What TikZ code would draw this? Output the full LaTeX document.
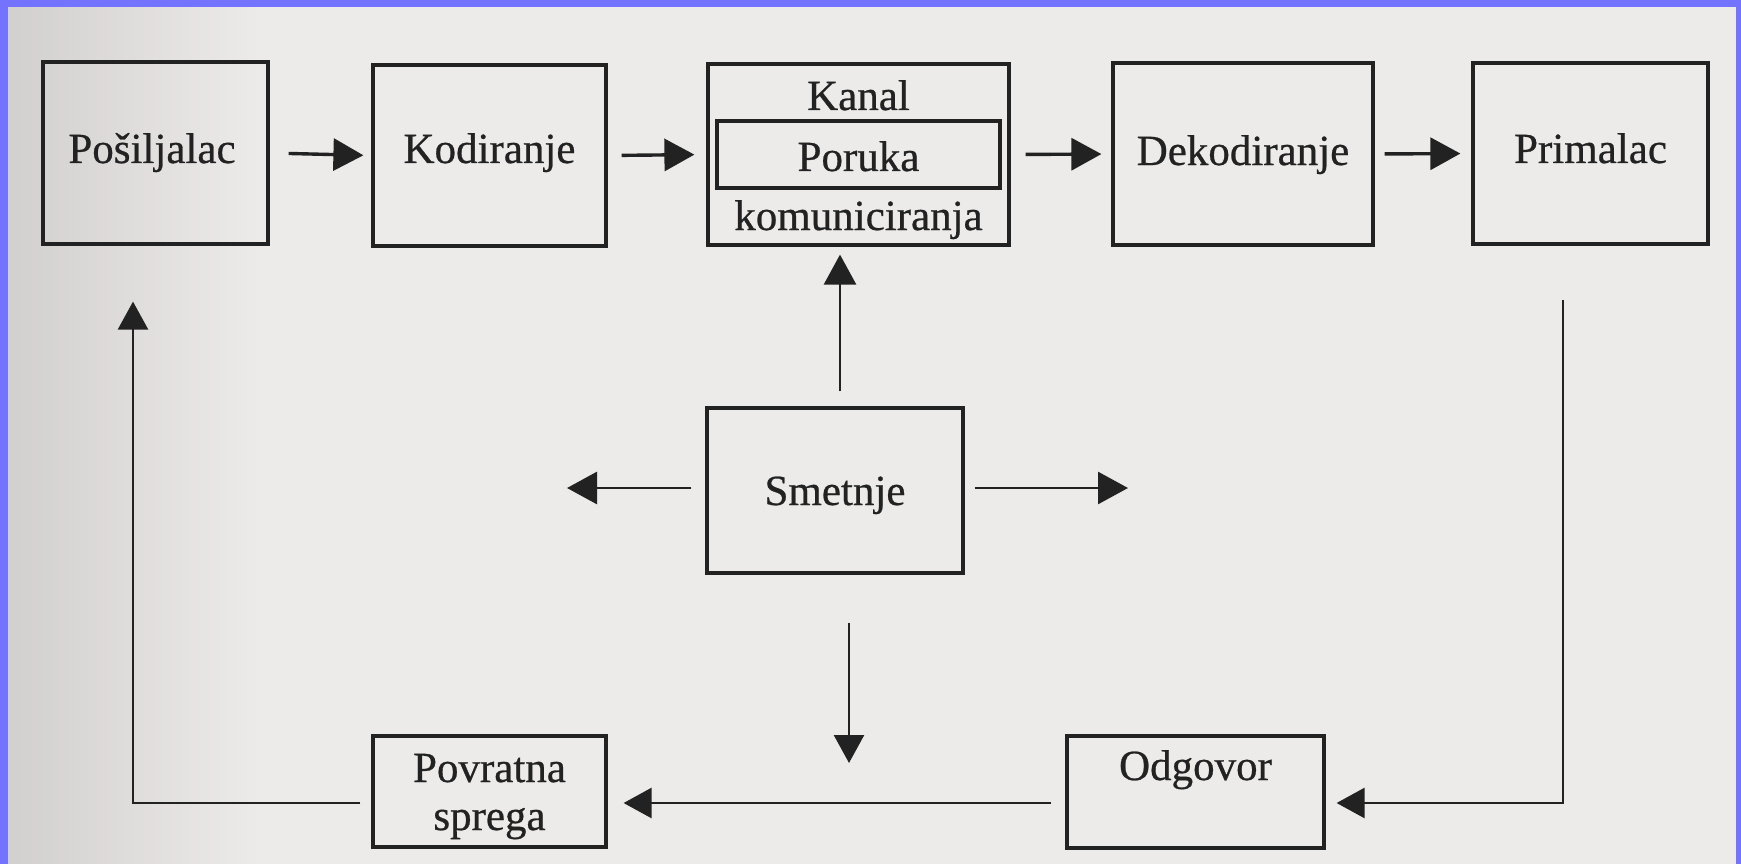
\documentclass[tikz,border=0pt]{standalone}
\usepackage{fontspec}
\setmainfont{Liberation Serif}
\newfontfamily\inkfont{Liberation Serif}[UprightFeatures={FakeBold=0.6}]
\usetikzlibrary{arrows.meta}
\definecolor{paper}{HTML}{EDEBE9}
\definecolor{paperdark}{HTML}{D2CFCF}
\definecolor{frameblue}{HTML}{7373FF}
\definecolor{ink}{HTML}{222222}
\begin{document}
\begin{tikzpicture}[x=1pt,y=-1pt,
  box/.style={draw=ink, line width=3.2pt, rectangle, inner sep=0pt},
  lbl/.style={anchor=base, text=ink, inner sep=0pt, font=\inkfont\fontsize{43}{48}\selectfont},
  arr/.style={draw=ink, line width=3.4pt, -{Triangle[length=30pt,width=32pt]}},
  fb/.style={draw=ink, line width=2.6pt},
  fbarr/.style={draw=ink, line width=2.6pt, -{Triangle[length=28pt,width=30pt]}}]
\useasboundingbox (0,0) rectangle (1741,864);
% paper
\fill[paper] (0,0) rectangle (1741,864);
\shade[left color=paperdark, right color=paper] (8,0) rectangle (260,864);
% blue frame
\fill[frameblue] (0,0) rectangle (1741,7);
\fill[frameblue] (0,0) rectangle (8,864);
\fill[frameblue] (1736,0) rectangle (1741,864);

% boxes
\node[box, minimum width=225pt, minimum height=182pt] (pos) at (155.5,153) {};
\node[box, minimum width=233pt, minimum height=181pt] (kod) at (489.5,155.5) {};
\node[box, minimum width=301pt, minimum height=181pt] (kan) at (858.5,154.5) {};
\node[box, minimum width=283pt, minimum height=67pt] (por) at (858.5,154.5) {};
\node[box, minimum width=260pt, minimum height=182pt] (dek) at (1243,154) {};
\node[box, minimum width=235pt, minimum height=181pt] (pri) at (1590.5,153.5) {};
\node[box, minimum width=256pt, minimum height=165pt] (sme) at (835,490.5) {};
\node[box, minimum width=233pt, minimum height=111pt] (pov) at (489.5,791.5) {};
\node[box, minimum width=257pt, minimum height=112pt] (odg) at (1195.5,792) {};

% texts
\node[lbl] (tpos) at (152,163) {Pošiljalac};
\node[lbl] (tkod) at (489.5,163) {Kodiranje};
\node[lbl] (tkan) at (858.5,110) {Kanal};
\node[lbl] (tpor) at (858.5,171) {Poruka};
\node[lbl] (tkom) at (858.5,230) {komuniciranja};
\node[lbl] (tdek) at (1243,165) {Dekodiranje};
\node[lbl] (tpri) at (1590.5,163) {Primalac};
\node[lbl] (tsme) at (835,505) {Smetnje};
\node[lbl] (tpov1) at (489.5,782) {Povratna};
\node[lbl] (tpov2) at (489.5,830) {sprega};
\node[lbl] (todg) at (1195.5,780) {Odgovor};

% top row arrows
\draw[arr, shorten <=19pt, shorten >=8pt] (pos.east) -- (kod.west);
\draw[arr, shorten <=14pt, shorten >=12pt] (kod.east) -- (kan.west);
\draw[arr, shorten <=15pt, shorten >=10pt] (kan.east) -- (dek.west);
\draw[arr, shorten <=10pt, shorten >=11pt] (dek.east) -- (pri.west);

% Smetnje arrows
\coordinate (lt) at (567,488);
\coordinate (rt) at (1128,488);
\coordinate (dn) at (849,763);
\draw[arr, line width=2.8pt, shorten <=15pt, shorten >=8pt] ([xshift=5pt]sme.north) -- ([xshift=5pt]sme.north |- kan.south);
\draw[arr, line width=2.8pt, shorten <=14pt] (sme.west |- lt) -- (lt);
\draw[arr, line width=2.8pt, shorten <=10pt] (sme.east |- rt) -- (rt);
\draw[fbarr] ([xshift=14pt,yshift=-48pt]sme.south) -- (dn);

% feedback loop
\coordinate (c1) at (1563,803);
\coordinate (c2) at (133,803);
\draw[fbarr, shorten >=11pt] ([yshift=-54pt]c1 |- pri.south) -- (c1) -- (odg.east |- c1);
\draw[fbarr, shorten <=14pt, shorten >=16pt] (odg.west |- c1) -- (pov.east |- c1);
\draw[fbarr, shorten <=11pt] (pov.west |- c2) -- (c2) -- ([yshift=-56pt]c2 |- pos.south);
\end{tikzpicture}
\end{document}
